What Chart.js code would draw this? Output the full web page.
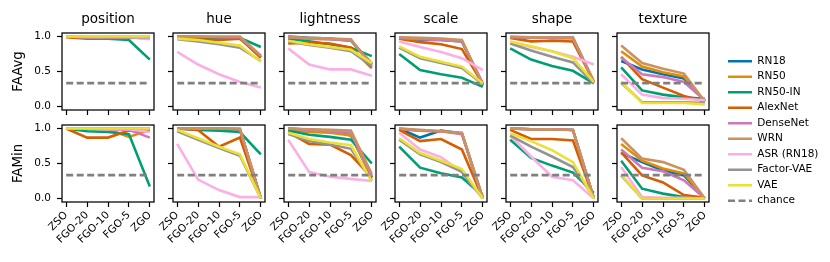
<!DOCTYPE html>
<html>
<head>
<meta charset="utf-8">
<script src="https://cdn.jsdelivr.net/npm/chart.js@4.4.1/dist/chart.umd.min.js"></script>
<style>
  body { margin: 0; background: #fff; width: 830px; height: 262px; position: relative; overflow: hidden; }
  canvas { position: absolute; }
</style>
</head>
<body>
<script>
// categories / labels
const categories = ['ZSO', 'FGO-20', 'FGO-10', 'FGO-5', 'ZGO'];
const factors = ['position', 'hue', 'lightness', 'scale', 'shape', 'texture'];
const metrics = ['FAAvg', 'FAMin'];
const models = ['RN18', 'RN50', 'RN50-IN', 'AlexNet', 'DenseNet', 'WRN', 'ASR (RN18)', 'Factor-VAE', 'VAE'];
const colors = ['#0173b2', '#de8f05', '#029e73', '#d55e00', '#cc78bc', '#ca9161', '#fbafe4', '#949494', '#ece133'];
const yTicks = [0, 0.5, 1.0];
const chance = 1 / 3;

// one array per panel, rows follow the models list
const avgPosition = [
  [1.0, 0.99, 0.99, 0.99, 0.99],
  [1.0, 0.99, 0.99, 0.99, 0.99],
  [1.0, 0.98, 0.97, 0.95, 0.67],
  [0.99, 0.97, 0.97, 0.98, 0.99],
  [1.0, 0.99, 0.99, 0.99, 0.97],
  [1.0, 1.0, 1.0, 1.0, 1.0],
  [1.0, 0.99, 0.99, 0.99, 0.96],
  [1.0, 0.99, 0.99, 0.99, 0.99],
  [1.0, 1.0, 1.0, 1.0, 1.0]
];
const avgHue = [
  [1.0, 0.99, 0.98, 0.98, 0.7],
  [1.0, 0.99, 0.99, 0.99, 0.72],
  [1.0, 0.99, 0.98, 0.98, 0.85],
  [0.98, 0.96, 0.95, 0.97, 0.7],
  [1.0, 1.0, 0.99, 0.99, 0.73],
  [1.0, 1.0, 1.0, 1.0, 0.72],
  [0.78, 0.6, 0.46, 0.35, 0.27],
  [0.96, 0.93, 0.89, 0.84, 0.65],
  [0.97, 0.95, 0.91, 0.87, 0.64]
];
const avgLightness = [
  [1.0, 0.98, 0.97, 0.94, 0.6],
  [0.99, 0.97, 0.96, 0.94, 0.62],
  [0.97, 0.93, 0.89, 0.84, 0.72],
  [0.9, 0.91, 0.9, 0.84, 0.55],
  [0.99, 0.97, 0.96, 0.95, 0.6],
  [0.99, 0.98, 0.97, 0.96, 0.57],
  [0.83, 0.6, 0.53, 0.53, 0.44],
  [0.93, 0.88, 0.84, 0.79, 0.58],
  [0.94, 0.89, 0.85, 0.81, 0.62]
];
const avgScale = [
  [0.99, 0.95, 0.95, 0.93, 0.3],
  [0.98, 0.97, 0.96, 0.94, 0.32],
  [0.75, 0.52, 0.46, 0.41, 0.28],
  [0.97, 0.92, 0.89, 0.82, 0.32],
  [0.98, 0.96, 0.95, 0.93, 0.33],
  [0.99, 0.98, 0.97, 0.95, 0.31],
  [0.93, 0.85, 0.78, 0.69, 0.52],
  [0.84, 0.69, 0.62, 0.55, 0.32],
  [0.86, 0.71, 0.64, 0.57, 0.33]
];
const avgShape = [
  [0.99, 0.99, 0.98, 0.98, 0.35],
  [0.99, 0.99, 0.98, 0.98, 0.35],
  [0.83, 0.67, 0.58, 0.51, 0.33],
  [0.98, 0.93, 0.94, 0.93, 0.35],
  [0.99, 0.99, 0.98, 0.98, 0.35],
  [1.0, 0.99, 0.99, 0.98, 0.36],
  [0.92, 0.85, 0.79, 0.71, 0.6],
  [0.9, 0.8, 0.71, 0.63, 0.33],
  [0.93, 0.86, 0.79, 0.69, 0.35]
];
const avgTexture = [
  [0.65, 0.53, 0.46, 0.4, 0.08],
  [0.79, 0.57, 0.49, 0.43, 0.07],
  [0.56, 0.23, 0.17, 0.13, 0.11],
  [0.71, 0.39, 0.27, 0.15, 0.07],
  [0.7, 0.46, 0.42, 0.35, 0.09],
  [0.87, 0.62, 0.54, 0.47, 0.07],
  [0.46, 0.17, 0.12, 0.11, 0.09],
  [0.34, 0.06, 0.06, 0.06, 0.05],
  [0.35, 0.05, 0.05, 0.05, 0.03]
];
const minPosition = [
  [1.0, 1.0, 1.0, 1.0, 1.0],
  [1.0, 1.0, 0.99, 0.88, 0.98],
  [1.0, 0.96, 0.95, 0.92, 0.17],
  [1.0, 0.87, 0.87, 0.97, 0.97],
  [1.0, 1.0, 0.99, 0.98, 0.87],
  [1.0, 1.0, 1.0, 1.0, 1.0],
  [1.0, 1.0, 0.99, 0.99, 0.95],
  [1.0, 1.0, 1.0, 1.0, 1.0],
  [1.0, 1.0, 1.0, 1.0, 1.0]
];
const minHue = [
  [1.0, 1.0, 1.0, 0.99, 0.0],
  [1.0, 1.0, 0.99, 0.99, 0.0],
  [1.0, 0.98, 0.97, 0.95, 0.63],
  [1.0, 0.98, 0.74, 0.87, 0.0],
  [1.0, 1.0, 1.0, 0.99, 0.01],
  [1.0, 1.0, 1.0, 1.0, 0.0],
  [0.78, 0.27, 0.12, 0.02, 0.02],
  [0.96, 0.84, 0.72, 0.61, 0.0],
  [0.98, 0.86, 0.74, 0.63, 0.0]
];
const minLightness = [
  [1.0, 0.98, 0.97, 0.9, 0.3],
  [0.98, 0.95, 0.94, 0.9, 0.3],
  [0.97, 0.91, 0.88, 0.84, 0.5],
  [0.95, 0.78, 0.77, 0.62, 0.3],
  [1.0, 0.98, 0.96, 0.94, 0.32],
  [1.0, 0.99, 0.98, 0.97, 0.35],
  [0.84, 0.38, 0.31, 0.28, 0.25],
  [0.92, 0.82, 0.77, 0.71, 0.26],
  [0.94, 0.85, 0.8, 0.76, 0.24]
];
const minScale = [
  [1.0, 0.87, 0.97, 0.93, 0.0],
  [0.99, 0.97, 0.96, 0.93, 0.0],
  [0.74, 0.44, 0.36, 0.3, 0.04],
  [0.98, 0.82, 0.85, 0.7, 0.0],
  [1.0, 0.97, 0.96, 0.92, 0.0],
  [1.0, 0.98, 0.96, 0.94, 0.0],
  [0.94, 0.7, 0.59, 0.38, 0.0],
  [0.84, 0.63, 0.52, 0.38, 0.0],
  [0.86, 0.65, 0.54, 0.42, 0.0]
];
const minShape = [
  [1.0, 0.99, 0.99, 0.98, 0.0],
  [1.0, 0.99, 0.99, 0.98, 0.0],
  [0.84, 0.58, 0.47, 0.37, 0.08],
  [0.98, 0.85, 0.85, 0.83, 0.0],
  [1.0, 0.99, 0.99, 0.98, 0.0],
  [1.0, 0.99, 0.99, 0.98, 0.0],
  [0.9, 0.6, 0.31, 0.26, 0.0],
  [0.9, 0.74, 0.6, 0.45, 0.02],
  [0.93, 0.82, 0.69, 0.52, 0.0]
];
const minTexture = [
  [0.65, 0.52, 0.4, 0.33, 0.0],
  [0.78, 0.54, 0.43, 0.36, 0.0],
  [0.54, 0.14, 0.07, 0.02, 0.01],
  [0.66, 0.33, 0.23, 0.05, 0.01],
  [0.7, 0.44, 0.39, 0.26, 0.0],
  [0.86, 0.57, 0.52, 0.41, 0.0],
  [0.45, 0.02, 0.01, 0.01, 0.0],
  [0.33, 0.0, 0.0, 0.0, 0.0],
  [0.34, 0.0, 0.0, 0.0, 0.0]
];

const panels = [
  [avgPosition, avgHue, avgLightness, avgScale, avgShape, avgTexture],
  [minPosition, minHue, minLightness, minScale, minShape, minTexture]
];

Chart.defaults.font.family = "'DejaVu Sans', sans-serif";
Chart.defaults.color = '#000';

// black box round each plot area, like matplotlib spines
const framePlugin = {
  id: 'frame',
  afterDraw(chart) {
    const a = chart.chartArea, ctx = chart.ctx;
    ctx.save();
    ctx.strokeStyle = '#000';
    ctx.lineWidth = 1.25;
    ctx.strokeRect(a.left, a.top, a.right - a.left, a.bottom - a.top);
    ctx.restore();
  }
};

const chanceDash = [7, 3.5];
const lineW = 2.6;
const boxW = 92, boxH = 77;

function addCanvas(left, top, w, h) {
  const c = document.createElement('canvas');
  c.width = w; c.height = h;
  c.style.left = left + 'px'; c.style.top = top + 'px';
  c.style.width = w + 'px'; c.style.height = h + 'px';
  document.body.appendChild(c);
  return c;
}

function makePanel(row, col, values) {
  const boxLeft = 62 + 111 * col;
  const boxTop = row === 0 ? 33 : 125;
  const padL = col === 0 ? 62 : 40;
  const padR = 12;
  const padT = row === 0 ? 33 : 16;
  const padB = row === 0 ? 16 : 60;
  const canvas = addCanvas(boxLeft - padL, boxTop - padT, padL + boxW + padR, padT + boxH + padB);

  const datasets = values.map((vals, i) => ({
    label: models[i],
    data: vals.map((v, j) => ({ x: j, y: v })),
    borderColor: colors[i],
    backgroundColor: colors[i],
    borderWidth: lineW,
    pointRadius: 0,
    tension: 0,
    order: values.length + 1 - i
  }));
  datasets.push({
    label: 'chance',
    data: [{ x: 0, y: chance }, { x: categories.length - 1, y: chance }],
    borderColor: '#808080',
    borderDash: chanceDash,
    borderWidth: lineW,
    pointRadius: 0,
    order: 0
  });

  const grid = { drawOnChartArea: false, drawTicks: true, tickLength: 5, tickWidth: 1.2, tickColor: '#000' };
  const pad = { top: row === 0 ? 0 : padT, right: padR, left: 0, bottom: 0 };

  const chart = new Chart(canvas, {
    type: 'line',
    data: { datasets: datasets },
    options: {
      responsive: false,
      animation: false,
      devicePixelRatio: 1,
      layout: { padding: Object.assign({}, pad) },
      plugins: {
        legend: { display: false },
        tooltip: { enabled: false },
        title: {
          display: row === 0,
          text: factors[col],
          fullSize: false,
          color: '#000',
          font: { size: 13.5, weight: 'normal', lineHeight: 1.2 },
          padding: { top: 11, bottom: 5.8 }
        }
      },
      scales: {
        x: {
          type: 'linear',
          min: -0.2,
          max: 4.2,
          afterBuildTicks: s => { s.ticks = categories.map((c, i) => ({ value: i })); },
          afterFit: s => { s.height = padB; },
          ticks: {
            display: row === 1,
            autoSkip: false,
            minRotation: 45,
            maxRotation: 45,
            padding: 2,
            color: '#000',
            font: { size: 10.5 },
            callback: v => categories[v]
          },
          grid: grid,
          border: { display: false }
        },
        y: {
          min: -0.05,
          max: 1.05,
          afterBuildTicks: s => { s.ticks = yTicks.map(v => ({ value: v })); },
          afterFit: s => { s.width = padL; },
          ticks: {
            display: col === 0,
            padding: 6,
            color: '#000',
            font: { size: 10.5 },
            callback: v => v.toFixed(1)
          },
          grid: grid,
          border: { display: false },
          title: {
            display: col === 0,
            text: metrics[row],
            color: '#000',
            font: { size: 13.3 },
            padding: { top: 11, bottom: 0 }
          }
        }
      }
    },
    plugins: [framePlugin]
  });

  // nudge the layout padding until the plot box sits where the reference has it
  for (let k = 0; k < 5; k++) {
    const a = chart.chartArea;
    const dt = padT - a.top, db = a.bottom - (padT + boxH);
    const dl = padL - a.left, dr = a.right - (padL + boxW);
    if (Math.abs(dt) + Math.abs(db) + Math.abs(dl) + Math.abs(dr) < 0.05) break;
    pad.top += dt; pad.bottom += db; pad.left += dl; pad.right += dr;
    chart.options.layout.padding = Object.assign({}, pad);
    chart.update();
  }
}

panels.forEach((rowPanels, r) => rowPanels.forEach((vals, c) => makePanel(r, c, vals)));

// legend on its own canvas at the right
const legendCanvas = addCanvas(723, 0, 107, 262);
const legendSets = models.map((m, i) => ({
  label: m, data: [], borderColor: colors[i], backgroundColor: colors[i], borderWidth: lineW
}));
legendSets.push({ label: 'chance', data: [], borderColor: '#808080', backgroundColor: '#808080', borderDash: chanceDash, borderWidth: lineW });

const defaultLabels = Chart.defaults.plugins.legend.labels.generateLabels;

new Chart(legendCanvas, {
  type: 'line',
  data: { datasets: legendSets },
  options: {
    responsive: false,
    animation: false,
    devicePixelRatio: 1,
    scales: { x: { display: false }, y: { display: false } },
    plugins: {
      tooltip: { enabled: false },
      legend: {
        position: 'left',
        align: 'center',
        maxWidth: 107,
        onClick: null,
        labels: {
          usePointStyle: true,
          pointStyle: 'line',
          pointStyleWidth: 24,
          color: '#000',
          font: { size: 10.5 },
          padding: 5,
          generateLabels: chart => defaultLabels(chart).map(item => {
            const ds = chart.data.datasets[item.datasetIndex];
            item.lineDash = ds.borderDash || [];
            item.lineWidth = ds.borderWidth;
            item.strokeStyle = ds.borderColor;
            return item;
          })
        }
      }
    }
  }
});
</script>
</body>
</html>
